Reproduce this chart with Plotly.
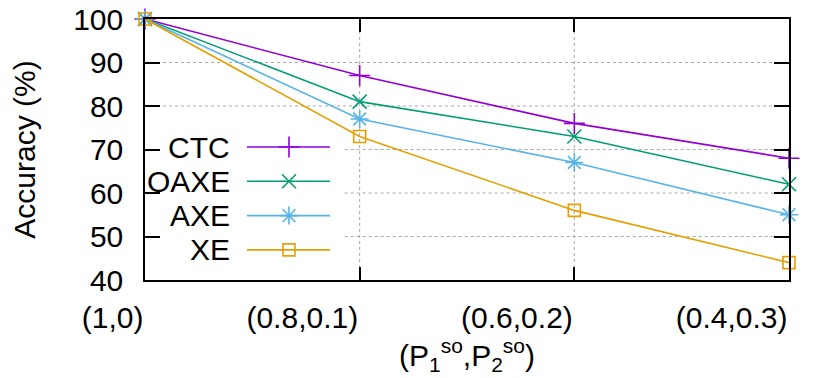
import plotly.graph_objects as go

# datos
categorias = ["(1,0)", "(0.8,0.1)", "(0.6,0.2)", "(0.4,0.3)"]
series = ["CTC", "OAXE", "AXE", "XE"]
ctc = [100, 87, 76, 68]
oaxe = [100, 81, 73, 62]
axe = [100, 77, 67, 55]
xe = [100, 73, 56, 44]
y_ticks = [40, 50, 60, 70, 80, 90, 100]

valores = [ctc, oaxe, axe, xe]
colores = ["#9400D3", "#009E73", "#56B4E9", "#E69F00"]
simbolos = ["cross-thin-open", "x-thin-open", "asterisk-open", "square-open"]
tamanos = [15, 14, 15, 12]
FUENTE = "Liberation Sans, Arial, sans-serif"
OFF = 8  # margen del body de la pagina html
GRID = dict(color="#a8a8a8", width=1, dash="dot")
CAJA_LEYENDA = 0.31  # ancho (fraccion del eje x) de la caja opaca de la leyenda

fig = go.Figure()
xs = list(range(len(categorias)))

# rejilla punteada (la caja de la leyenda la tapa en 50, 60 y 70)
for v in y_ticks[1:-1]:
    x0 = CAJA_LEYENDA if 45 <= v <= 74 else 0
    fig.add_shape(type="line", xref="x domain", yref="y", x0=x0, x1=1, y0=v, y1=v,
                  line=GRID, layer="below")
for v in xs[1:-1]:
    fig.add_shape(type="line", xref="x", yref="y domain", x0=v, x1=v, y0=0, y1=1,
                  line=GRID, layer="below")

for nombre, vals, col, sim, tam in zip(series, valores, colores, simbolos, tamanos):
    fig.add_trace(go.Scatter(x=xs, y=vals, name=nombre, mode="lines+markers",
                             line=dict(color=col, width=1.6),
                             marker=dict(symbol=sim, size=tam, color=col,
                                         line=dict(color=col, width=1.6)),
                             cliponaxis=False, showlegend=False))

# leyenda estilo gnuplot (texto a la izquierda, muestra a la derecha), en ejes de pixeles
fila0, paso = 147, 34.3
for i, (nombre, col, sim, tam) in enumerate(zip(series, colores, simbolos, tamanos)):
    yy = fila0 + i * paso
    fig.add_trace(go.Scatter(x=[247, 289, 330], y=[yy, yy, yy], xaxis="x2", yaxis="y2",
                             mode="lines", line=dict(color=col, width=1.6),
                             showlegend=False, hoverinfo="skip"))
    fig.add_trace(go.Scatter(x=[289], y=[yy], xaxis="x2", yaxis="y2", mode="markers",
                             marker=dict(symbol=sim, size=tam, color=col,
                                         line=dict(color=col, width=1.6)),
                             showlegend=False, hoverinfo="skip"))
    fig.add_annotation(x=232, y=yy, xref="x2", yref="y2", text=nombre, showarrow=False,
                       xanchor="right", yanchor="middle",
                       font=dict(family=FUENTE, size=30, color="black"))

eje = dict(showline=True, linecolor="black", linewidth=1.5, mirror="ticks",
           ticks="inside", tickcolor="black", tickwidth=1.5, showgrid=False,
           zeroline=False, automargin=False,
           tickfont=dict(family=FUENTE, size=30, color="black"))

fig.update_layout(
    width=830 - OFF, height=378 - OFF, autosize=False,
    margin=dict(l=145 - OFF, r=41, t=19 - OFF, b=98, pad=0),
    plot_bgcolor="white", paper_bgcolor="white",
    font=dict(family=FUENTE, size=30, color="black"),
    xaxis=dict(eje, range=[0, 3], tickvals=xs, ticktext=categorias, ticklen=13,
               ticklabelposition="outside left", ticklabelstandoff=10,
               ticklabeloverflow="allow",
               title=dict(text="(P<sub>1</sub><sup>so</sup>,P<sub>2</sub><sup>so</sup>)",
                          standoff=12, font=dict(family=FUENTE, size=30))),
    yaxis=dict(eje, range=[40, 100], tickvals=y_ticks, ticklen=15, ticklabelstandoff=14,
               ticklabeloverflow="allow",
               title=dict(text="Accuracy (%)", standoff=33, font=dict(family=FUENTE, size=30))),
    xaxis2=dict(overlaying="x", anchor="y2", range=[145, 789], visible=False),
    yaxis2=dict(overlaying="y", anchor="x2", range=[280, 19], visible=False),
)

fig.write_html("out.html")
